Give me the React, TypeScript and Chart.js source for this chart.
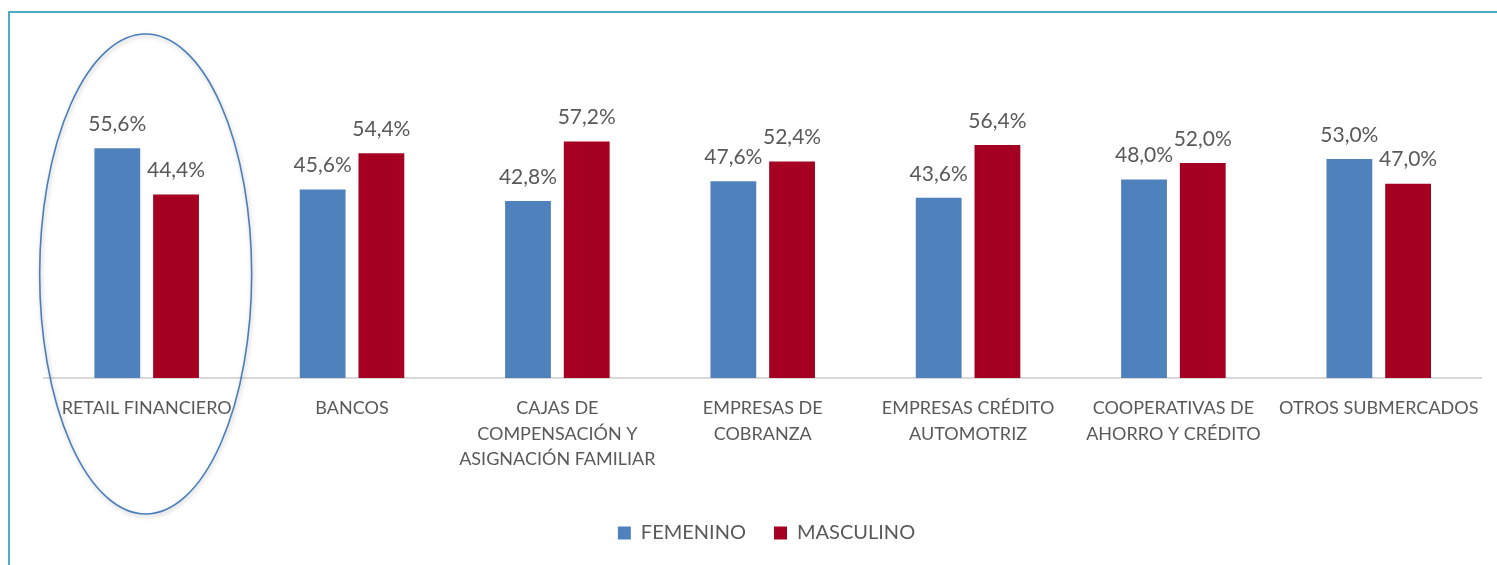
import React, { useEffect, useRef } from "react";
import { Chart, registerables } from "chart.js";

Chart.register(...registerables);

const categories: string[][] = [
  ["RETAIL FINANCIERO"],
  ["BANCOS"],
  ["CAJAS DE", "COMPENSACIÓN Y", "ASIGNACIÓN FAMILIAR"],
  ["EMPRESAS DE", "COBRANZA"],
  ["EMPRESAS CRÉDITO", "AUTOMOTRIZ"],
  ["COOPERATIVAS DE", "AHORRO Y CRÉDITO"],
  ["OTROS SUBMERCADOS"],
];
const femenino: number[] = [55.6, 45.6, 42.8, 47.6, 43.6, 48.0, 53.0];
const masculino: number[] = [44.4, 54.4, 57.2, 52.4, 56.4, 52.0, 47.0];
const seriesNames: string[] = ["FEMENINO", "MASCULINO"];

const FONT = "Lato, 'Open Sans', sans-serif";
const TEXT = "#595959";

const framePlugin = {
  id: "frame",
  beforeDraw(chart: any) {
    const ctx = chart.ctx;
    ctx.save();
    ctx.fillStyle = "#ffffff";
    ctx.fillRect(0, 0, chart.width, chart.height);
    ctx.strokeStyle = "#4bacc6";
    ctx.lineWidth = 2;
    ctx.strokeRect(9, 12, chart.width + 20, chart.height + 20);
    ctx.restore();
  },
};

const labelsPlugin = {
  id: "valueLabels",
  afterDatasetsDraw(chart: any) {
    const ctx = chart.ctx;
    ctx.save();
    ctx.font = `21px ${FONT}`;
    ctx.fillStyle = TEXT;
    ctx.textAlign = "center";
    ctx.textBaseline = "middle";
    chart.data.datasets.forEach((ds: any, i: number) => {
      const meta = chart.getDatasetMeta(i);
      meta.data.forEach((el: any, j: number) => {
        const v = ds.data[j] as number;
        ctx.fillText(v.toFixed(1).replace(".", ",") + "%", el.x, el.y - 24);
      });
    });
    ctx.restore();
  },
};

const ellipsePlugin = {
  id: "highlightEllipse",
  afterDraw(chart: any) {
    const ctx = chart.ctx;
    const x = chart.scales.x.getPixelForValue(0) - 1;
    ctx.save();
    ctx.strokeStyle = "#4a7ebb";
    ctx.lineWidth = 1.6;
    ctx.shadowColor = "rgba(0,0,0,0.25)";
    ctx.shadowBlur = 4;
    ctx.shadowOffsetX = 1;
    ctx.shadowOffsetY = 2;
    ctx.beginPath();
    ctx.ellipse(x, 274, 106, 240, 0, 0, Math.PI * 2);
    ctx.stroke();
    ctx.restore();
  },
};

export default function App() {
  const ref = useRef<HTMLCanvasElement | null>(null);
  useEffect(() => {
    if (!ref.current) return;
    const chart = new Chart(ref.current, {
      type: "bar",
      data: {
        labels: categories,
        datasets: [
          {
            label: seriesNames[0],
            data: femenino,
            backgroundColor: "#4f81bd",
            categoryPercentage: 0.572,
            barPercentage: 0.78,
          },
          {
            label: seriesNames[1],
            data: masculino,
            backgroundColor: "#a50021",
            categoryPercentage: 0.572,
            barPercentage: 0.78,
          },
        ],
      },
      options: {
        animation: false,
        responsive: false,
        devicePixelRatio: 1,
        layout: { padding: { left: 44, right: 8, top: 130, bottom: 12 } },
        plugins: {
          tooltip: { enabled: false },
          legend: {
            position: "bottom",
            labels: {
              boxWidth: 13,
              boxHeight: 13,
              padding: 28,
              color: TEXT,
              font: { family: FONT, size: 20 },
            },
          },
        },
        scales: {
          y: { display: false, min: 0, max: 60 },
          x: {
            grid: { display: false, drawTicks: false },
            border: { display: true, color: "#d9d9d9", width: 2 },
            ticks: {
              color: TEXT,
              font: { family: FONT, size: 18, lineHeight: 1.4 },
              padding: 18,
              autoSkip: false,
              maxRotation: 0,
            },
            afterFit(scale: any) {
              scale.height = 117;
            },
          },
        },
      },
      plugins: [framePlugin, labelsPlugin, ellipsePlugin],
    });
    return () => chart.destroy();
  }, []);
  return (
    <div style={{ position: "absolute", left: 0, top: 0, width: 1497, height: 565 }}>
      <canvas ref={ref} width={1497} height={565} />
    </div>
  );
}
